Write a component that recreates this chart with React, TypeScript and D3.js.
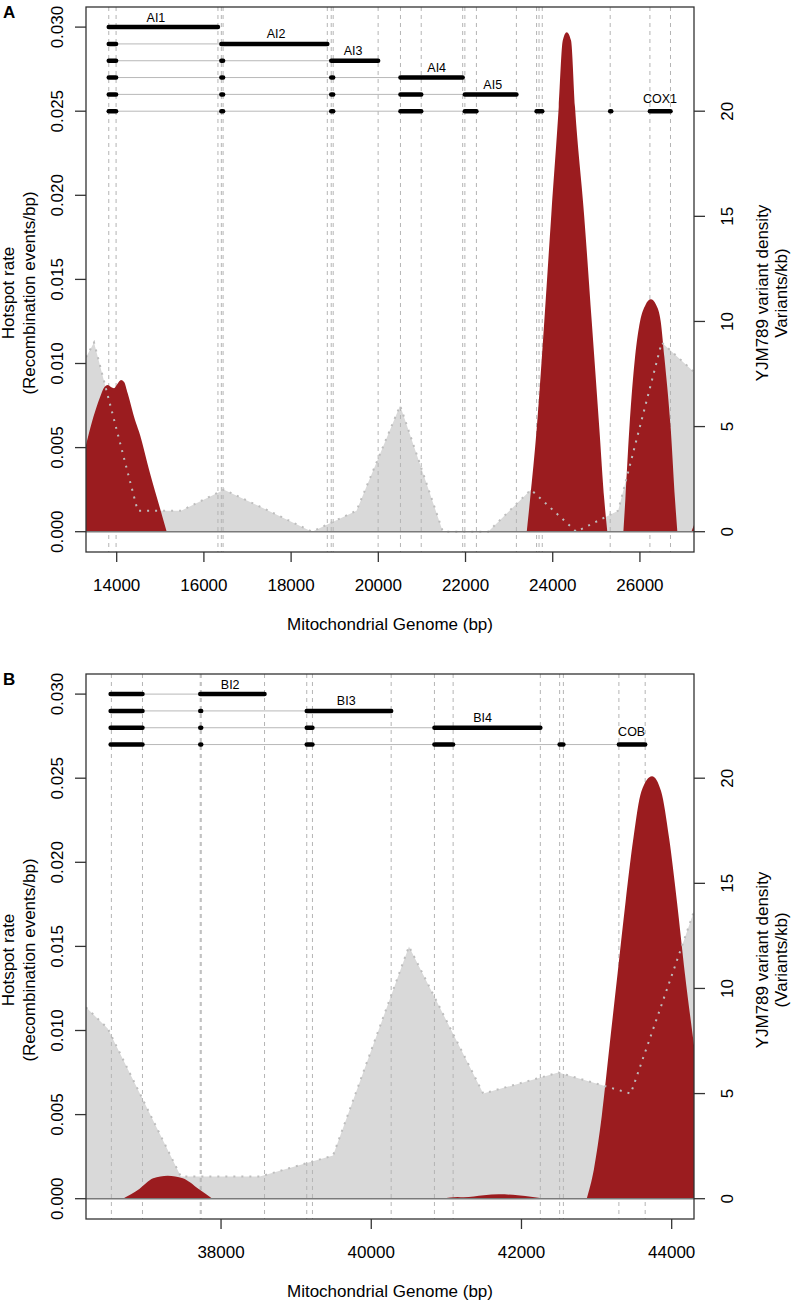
import React from 'react';
import * as d3 from 'd3';

// ---------------- DATA ----------------
// Panel A : COX1 region
const cox1Exons: [number, number][] = [
  [13818, 13986], [16400, 16440], [18920, 18965], [20508, 20984],
  [21985, 22250], [23630, 23760], [25318, 25342], [26229, 26701],
];
const cox1Orfs: [number, number][] = [
  [13818, 16322], [16400, 18830], [18920, 19996], [20508, 21935], [21985, 23167],
];
const cox1OrfNames = ['AI1', 'AI2', 'AI3', 'AI4', 'AI5'];
const cox1OrfLabelPos = [14900, 17654, 19420, 21339, 22624];
const cox1LabelPos = 26461;
const cox1Dashed = [13818, 13986, 16322, 16400, 16440, 18830, 18920, 18965, 19996, 20508, 20984,
  21935, 21985, 22250, 23167, 23630, 23686, 23760, 25318, 26229, 26701];
const cox1Ticks = [14000, 16000, 18000, 20000, 22000, 24000, 26000];

// variant density (variants/kb)
const densityA: [number, number][] = [
  [13296, 8.3], [13480, 9.0], [14480, 1.0], [15480, 1.0], [16460, 2.0], [17480, 1.0],
  [18480, 0], [19500, 1.0], [20500, 6.0], [21480, 0], [22520, 0], [23500, 2.0],
  [24540, 0], [25500, 1.0], [26500, 9.0], [27240, 7.6],
];
// hotspot rate (events/bp)
const hotspotA1: [number, number][] = [
  [13296, 0.00515], [13463, 0.0068], [13617, 0.0080], [13720, 0.0086], [13794, 0.00872],
  [13870, 0.0086], [13938, 0.00853], [14020, 0.0088], [14099, 0.00902], [14170, 0.0089],
  [14252, 0.00823], [14420, 0.00664], [14511, 0.00595], [14764, 0.00347], [14993, 0.00139], [15147, 0],
];
const hotspotA2: [number, number][] = [
  [23404, 0], [23479, 0.00188], [23633, 0.00613], [23807, 0.01252], [23968, 0.01888],
  [24138, 0.02525], [24230, 0.0292], [24321, 0.0297], [24420, 0.0292], [24511, 0.02525],
  [24718, 0.01888], [24894, 0.01252], [25069, 0.00613], [25183, 0.00188], [25252, 0],
];
const hotspotA3: [number, number][] = [
  [25620, 0], [25665, 0.00188], [25757, 0.00613], [25888, 0.01039], [26002, 0.0125],
  [26130, 0.0135], [26248, 0.01382], [26370, 0.0135], [26477, 0.0125], [26560, 0.01039],
  [26706, 0.00613], [26805, 0.00188], [26858, 0],
];
const hotspotA4: [number, number][] = [[27180, 0], [27240, 0.0004], [27300, 0.0008]];

// Panel B : COB region
const cobExons: [number, number][] = [
  [36530, 36954], [37723, 37736], [39141, 39217], [40841, 41090], [42508, 42558], [43297, 43647],
];
const cobOrfs: [number, number][] = [[37723, 38579], [39141, 40265], [40841, 42251]];
const cobOrfNames = ['BI2', 'BI3', 'BI4'];
const cobOrfLabelPos = [38122, 39667, 41482];
const cobLabelPos = 43467;
const cobDashed = [36540, 36954, 37723, 37736, 38579, 39141, 39217, 40265, 40841, 41090,
  42251, 42508, 42558, 43297, 43647];
const cobTicks = [38000, 40000, 42000, 44000];

const densityB: [number, number][] = [
  [36202, 9.1], [36491, 8.1], [37465, 1.05], [38517, 1.05], [39491, 2.05],
  [40502, 12.0], [41491, 5.0], [42491, 6.0], [43455, 5.0], [44300, 13.7],
];
const hotspotB1: [number, number][] = [
  [36691, 0], [36912, 0.00058], [37096, 0.00121], [37290, 0.00136], [37491, 0.00121],
  [37702, 0.00058], [37885, 0],
];
const hotspotB2: [number, number][] = [
  [40950, 0], [41150, 0.0001], [41230, 0.00008], [41500, 0.0002], [41700, 0.00026],
  [41950, 0.0002], [42150, 0.0001], [42300, 0],
];
const hotspotB3: [number, number][] = [
  [42869, 0], [42964, 0.00174], [43069, 0.00492], [43174, 0.00916], [43280, 0.0134],
  [43386, 0.01765], [43491, 0.02146], [43597, 0.02422], [43738, 0.02511], [43859, 0.02422],
  [43965, 0.02146], [44070, 0.01765], [44175, 0.0134], [44296, 0.00916], [44450, 0.004], [44600, 0],
];

const rateTicks = [0, 0.005, 0.01, 0.015, 0.02, 0.025, 0.03];
const densityTicks = [0, 5, 10, 15, 20];

// ---------------- STYLE ----------------
const FONT = '"Liberation Sans", Arial, Helvetica, sans-serif';
const RED = '#9b1c1f';
const GRAYFILL = '#d9d9d9';
const BOX_L = 86, BOX_R = 694, BOX_H = 545;

type Pt = [number, number];

interface PanelProps {
  id: string; letter: string; top: number; domain: [number, number]; xTicks: number[];
  exons: Pt[]; orfs: Pt[]; orfNames: string[]; orfLabelPos: number[];
  geneName: string; geneLabelPos: number; dashed: number[]; density: Pt[]; hotspots: Pt[][];
  rightTitle2: string;
}

function Panel(p: PanelProps) {
  const top = p.top, bottom = top + BOX_H;
  const x = d3.scaleLinear().domain(p.domain).range([BOX_L, BOX_R]);
  const yR = d3.scaleLinear().domain([0, 0.03]).range([top + 524.7, top + 20.1]);
  const yV = d3.scaleLinear().domain([0, 24]).range([top + 524.7, top + 20.1]);
  const base = yR(0);
  const grayArea = d3.area<Pt>().x(d => x(d[0])).y0(base).y1(d => yV(d[1]));
  const grayLine = d3.line<Pt>().x(d => x(d[0])).y(d => yV(d[1]));
  const redArea = d3.area<Pt>().x(d => x(d[0])).y0(base).y1(d => yR(d[1])).curve(d3.curveMonotoneX);
  const fmt = d3.format('.3f');
  const clip = `clip-${p.id}`;
  const midY = top + 286;

  const rows = p.orfs.map((orf, i) => ({
    rate: 0.03 - 0.001 * i,
    exons: p.exons.filter(e => e[1] < orf[0]),
    bar: orf as Pt | null,
    start: p.exons[0][0], end: orf[1],
    label: p.orfNames[i], labelPos: p.orfLabelPos[i], off: 5.5,
  }));
  rows.push({
    rate: 0.03 - 0.001 * p.orfs.length, exons: p.exons, bar: null,
    start: p.exons[0][0], end: p.exons[p.exons.length - 1][1],
    label: p.geneName, labelPos: p.geneLabelPos, off: 8.5,
  });

  return (
    <g>
      <defs>
        <clipPath id={clip}><rect x={BOX_L} y={top} width={BOX_R - BOX_L} height={BOX_H} /></clipPath>
      </defs>
      <g clipPath={`url(#${clip})`}>
        <path d={grayArea(p.density) || ''} fill={GRAYFILL} />
        {p.dashed.map((d, i) => (
          <line key={i} x1={x(d)} x2={x(d)} y1={top} y2={bottom} stroke="#b4b4b4" strokeWidth={1} strokeDasharray="4,4" />
        ))}
        {rows.map((r, i) => {
          const yy = yR(r.rate);
          return (
            <g key={i}>
              <line x1={x(r.start)} x2={x(r.end)} y1={yy} y2={yy} stroke="#b8b8b8" strokeWidth={1} />
              {r.exons.map((e, j) => (
                <line key={j} x1={x(e[0])} x2={x(e[1])} y1={yy} y2={yy} stroke="#000" strokeWidth={4.5} strokeLinecap="round" />
              ))}
              {r.bar && (
                <line x1={x(r.bar[0])} x2={x(r.bar[1])} y1={yy} y2={yy} stroke="#000" strokeWidth={4.5} strokeLinecap="round" />
              )}
              <text x={x(r.labelPos)} y={yy - r.off} textAnchor="middle" fontSize={12.5} fontFamily={FONT} fill="#000">{r.label}</text>
            </g>
          );
        })}
        {p.hotspots.map((h, i) => <path key={i} d={redArea(h) || ''} fill={RED} />)}
        <path d={grayLine(p.density) || ''} fill="none" stroke="#bdbdbd" strokeWidth={2} strokeDasharray="2,6" />
        <line x1={BOX_L} x2={BOX_R} y1={base} y2={base} stroke="#7a7a7a" strokeWidth={1.5} />
      </g>
      <rect x={BOX_L} y={top} width={BOX_R - BOX_L} height={BOX_H} fill="none" stroke="#333" strokeWidth={1.3} />
      {/* left axis */}
      {rateTicks.map((t, i) => (
        <g key={i}>
          <line x1={BOX_L - 11} x2={BOX_L} y1={yR(t)} y2={yR(t)} stroke="#333" strokeWidth={1.3} />
          <text transform={`translate(63,${yR(t)}) rotate(-90)`} textAnchor="middle" fontSize={17} fontFamily={FONT}>{fmt(t)}</text>
        </g>
      ))}
      {/* right axis */}
      {densityTicks.map((t, i) => (
        <g key={i}>
          <line x1={BOX_R} x2={BOX_R + 11} y1={yV(t)} y2={yV(t)} stroke="#333" strokeWidth={1.3} />
          <text transform={`translate(733,${yV(t)}) rotate(-90)`} textAnchor="middle" fontSize={17} fontFamily={FONT}>{t}</text>
        </g>
      ))}
      {/* bottom axis */}
      {p.xTicks.map((t, i) => (
        <g key={i}>
          <line x1={x(t)} x2={x(t)} y1={bottom} y2={bottom + 10} stroke="#333" strokeWidth={1.3} />
          <text x={x(t)} y={bottom + 39} textAnchor="middle" fontSize={17} fontFamily={FONT}>{t}</text>
        </g>
      ))}
      <text x={(BOX_L + BOX_R) / 2} y={bottom + 78} textAnchor="middle" fontSize={17} fontFamily={FONT}>Mitochondrial Genome (bp)</text>
      <text transform={`translate(14,${midY}) rotate(-90)`} textAnchor="middle" fontSize={17} fontFamily={FONT}>Hotspot rate</text>
      <text transform={`translate(35,${midY}) rotate(-90)`} textAnchor="middle" fontSize={17} fontFamily={FONT}>(Recombination events/bp)</text>
      <text transform={`translate(768,${midY}) rotate(-90)`} textAnchor="middle" fontSize={17} fontFamily={FONT}>YJM789 variant density</text>
      <text transform={`translate(787,${midY}) rotate(-90)`} textAnchor="middle" fontSize={17} fontFamily={FONT}>{p.rightTitle2}</text>
      <text x={3} y={top + 11} fontSize={17} fontWeight="bold" fontFamily={FONT}>{p.letter}</text>
    </g>
  );
}

export default function App() {
  return (
    <svg width={794} height={1301} style={{ position: 'absolute', left: 0, top: 0, background: '#fff' }}>
      <rect x={0} y={0} width={794} height={1301} fill="#fff" />
      <Panel id="a" letter="A" top={7} domain={[13296, 27240]} xTicks={cox1Ticks}
        exons={cox1Exons} orfs={cox1Orfs} orfNames={cox1OrfNames} orfLabelPos={cox1OrfLabelPos}
        geneName="COX1" geneLabelPos={cox1LabelPos} dashed={cox1Dashed} density={densityA}
        hotspots={[hotspotA1, hotspotA2, hotspotA3, hotspotA4]} rightTitle2="Variants/kb)" />
      <Panel id="b" letter="B" top={674} domain={[36202, 44297]} xTicks={cobTicks}
        exons={cobExons} orfs={cobOrfs} orfNames={cobOrfNames} orfLabelPos={cobOrfLabelPos}
        geneName="COB" geneLabelPos={cobLabelPos} dashed={cobDashed} density={densityB}
        hotspots={[hotspotB1, hotspotB2, hotspotB3]} rightTitle2="(Variants/kb)" />
    </svg>
  );
}
